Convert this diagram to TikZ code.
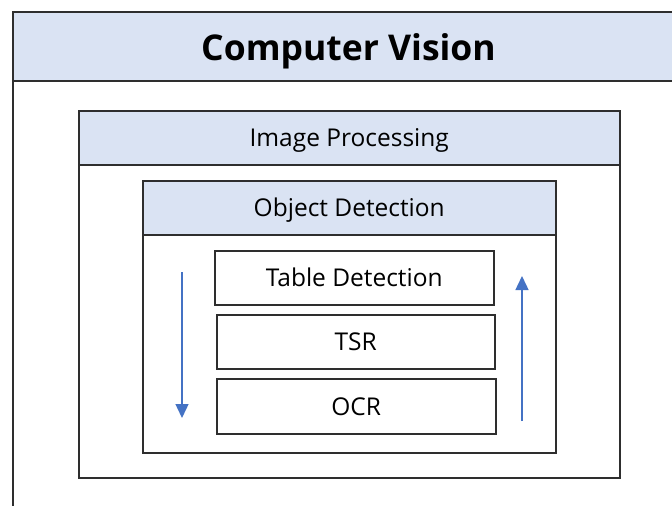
\documentclass[tikz,border=0pt]{standalone}
\usepackage{fontspec}
\setmainfont{Open Sans}
\usetikzlibrary{arrows.meta}
\definecolor{headblue}{HTML}{DAE3F3}
\definecolor{flowblue}{HTML}{4472C4}
\definecolor{edge}{HTML}{2E2E2E}
\tikzset{
  box/.style={draw=edge, line width=1.5pt, fill=white, inner sep=0pt, anchor=north west},
  headbox/.style={box, fill=headblue},
  label/.style={font=\fontsize{24.5}{28}\selectfont, text height=18pt, text depth=0.5pt},
  layer/.style={box, label},
  flow/.style={draw=flowblue, line width=1.4pt, -{Triangle[width=13pt,length=14pt]}}
}
\begin{document}
\begin{tikzpicture}[x=1pt, y=-1pt]
  \useasboundingbox (0,0) rectangle (672,506);
  \clip (0,0) rectangle (672,506);
  % outermost frame: Computer Vision
  \node[box, line width=2pt, minimum width=671pt, minimum height=520pt] (cv) at (12,11) {};
  \node[headbox, line width=2pt, minimum width=671pt, minimum height=69pt,
        font=\fontsize{35.5}{40}\bfseries\selectfont, text height=27pt, text depth=0pt]
        (cvhead) at (12,11) {Computer Vision};
  % Image Processing frame
  \node[box, minimum width=541pt, minimum height=367pt] (ip) at (78,110) {};
  \node[headbox, label, minimum width=541pt, minimum height=54pt] (iphead) at (78,110) {Image Processing};
  % Object Detection frame
  \node[box, minimum width=413pt, minimum height=272pt] (od) at (142,180) {};
  \node[headbox, label, minimum width=413pt, minimum height=54pt] (odhead) at (142,180) {Object Detection};
  % pipeline stages
  \node[layer, minimum width=279pt, minimum height=54pt] (td) at (214,250) {Table Detection};
  \node[layer, minimum width=278pt, minimum height=54pt] (tsr) at (216,314) {TSR};
  \node[layer, minimum width=279pt, minimum height=55pt] (ocr) at (216,378) {OCR};
  % direction arrows
  \coordinate (downtop) at (182,272);
  \coordinate (downbot) at (182,418);
  \coordinate (upbot) at (522,421);
  \coordinate (uptop) at (522,276);
  \draw[flow] (downtop) -- (downbot);
  \draw[flow] (upbot) -- (uptop);
\end{tikzpicture}
\end{document}
